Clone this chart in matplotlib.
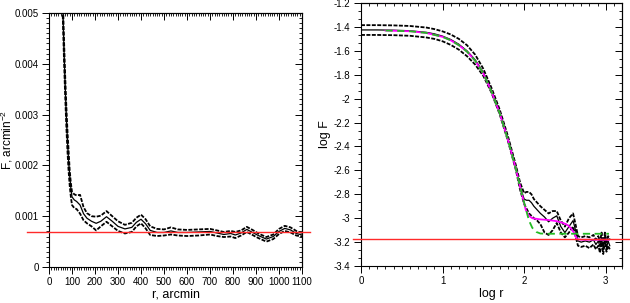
import matplotlib
matplotlib.use('Agg')
import matplotlib.pyplot as plt
from matplotlib.ticker import MultipleLocator, FixedLocator, FixedFormatter

plt.rcParams['font.family'] = ['Liberation Sans', 'DejaVu Sans']
plt.rcParams['axes.unicode_minus'] = False

# ---------------- left panel: F(r), linear ----------------
r_L = [55, 60, 65, 70, 75, 80, 85, 90, 95, 100,
       110, 120, 135, 150, 165, 185, 205, 225, 250, 275,
       300, 330, 360, 380, 400, 420, 440, 470, 500, 530,
       560, 600, 650, 700, 730, 760, 790, 810, 835, 860,
       885, 910, 945, 975, 1000, 1025, 1050, 1075, 1100]
F_mid = [0.0058, 0.0051, 0.0043, 0.0036, 0.0030, 0.0025, 0.0021, 0.0018, 0.00155, 0.00138,
         0.00132, 0.00129, 0.00122, 0.00105, 0.00096, 0.00090, 0.00086, 0.00090, 0.00099, 0.00090,
         0.00080, 0.00075, 0.00078, 0.00088, 0.00094, 0.00085, 0.00072, 0.00068, 0.00068, 0.00071,
         0.00068, 0.00068, 0.00069, 0.00070, 0.00067, 0.00064, 0.00066, 0.00063, 0.00067, 0.00074,
         0.00068, 0.00062, 0.00055, 0.00060, 0.00070, 0.00076, 0.00073, 0.00066, 0.00063]
F_hi = [0.0060, 0.0053, 0.0045, 0.0038, 0.0032, 0.0027, 0.0023, 0.0019, 0.00165, 0.00148,
        0.00143, 0.00141, 0.00142, 0.00118, 0.00106, 0.00100, 0.00099, 0.00101, 0.00110, 0.00100,
        0.00090, 0.00083, 0.00087, 0.00097, 0.00103, 0.00094, 0.00080, 0.00075, 0.00074, 0.00078,
        0.00074, 0.00073, 0.00074, 0.00075, 0.00072, 0.00069, 0.00071, 0.00069, 0.00072, 0.00079,
        0.00073, 0.00066, 0.00059, 0.00064, 0.00075, 0.00081, 0.00078, 0.00071, 0.00067]
F_lo = [0.0056, 0.0049, 0.0041, 0.0034, 0.0028, 0.0023, 0.0019, 0.0016, 0.00138, 0.00122,
        0.00116, 0.00114, 0.00105, 0.00092, 0.00086, 0.00080, 0.00072, 0.00080, 0.00089, 0.00080,
        0.00071, 0.00066, 0.00069, 0.00080, 0.00086, 0.00076, 0.00063, 0.00061, 0.00062, 0.00064,
        0.00062, 0.00061, 0.00062, 0.00064, 0.00061, 0.00059, 0.00060, 0.00057, 0.00062, 0.00069,
        0.00063, 0.00057, 0.00050, 0.00055, 0.00065, 0.00071, 0.00068, 0.00062, 0.00060]
F_bg = 0.00068

xticks_L = [0, 100, 200, 300, 400, 500, 600, 700, 800, 900, 1000, 1100]
xlabels_L = ['0', '100', '200', '300', '400', '500', '600', '700', '800', '900', '1000', '1100']
yticks_L = [0, 0.001, 0.002, 0.003, 0.004, 0.005]
ylabels_L = ['0', '0.001', '0.002', '0.003', '0.004', '0.005']

# ---------------- right panel: log F vs log r ----------------
logr_R = [0, 0.2, 0.4, 0.6, 0.8, 0.9, 1.0, 1.1, 1.2, 1.3, 1.4, 1.5, 1.6, 1.7, 1.8, 1.9, 1.95, 2.0,
          2.03, 2.06, 2.09, 2.12, 2.16, 2.2, 2.25, 2.3, 2.35, 2.4, 2.45, 2.5, 2.55, 2.6, 2.63,
          2.66, 2.7, 2.75, 2.8, 2.85, 2.88, 2.91, 2.93, 2.95, 2.97, 2.99, 3.01, 3.03, 3.05]
logF_mid = [-1.425, -1.425, -1.427, -1.432, -1.445, -1.458, -1.477, -1.505, -1.545, -1.600,
            -1.675, -1.78, -1.93, -2.11, -2.33, -2.58, -2.73, -2.84,
            -2.85, -2.85, -2.87, -2.90, -2.93, -2.96, -2.99, -3.03, -3.0, -2.98, -3.07, -3.12,
            -3.07, -3.02, -3.1, -3.19, -3.2, -3.19, -3.2, -3.18, -3.22, -3.19, -3.24, -3.17,
            -3.26, -3.15, -3.25, -3.19, -3.23]
logF_hi = [-1.385, -1.385, -1.387, -1.392, -1.405, -1.418, -1.437, -1.463, -1.50, -1.553,
           -1.632, -1.75, -1.91, -2.09, -2.31, -2.56, -2.70, -2.79,
           -2.78, -2.78, -2.80, -2.84, -2.87, -2.90, -2.93, -2.96, -2.94, -2.94, -3.02, -3.07,
           -3.0, -2.96, -3.05, -3.15, -3.16, -3.15, -3.16, -3.14, -3.18, -3.15, -3.2, -3.12,
           -3.22, -3.12, -3.2, -3.15, -3.18]
logF_lo = [-1.467, -1.467, -1.469, -1.474, -1.488, -1.50, -1.52, -1.55, -1.59, -1.645,
           -1.715, -1.81, -1.95, -2.13, -2.35, -2.60, -2.76, -2.88,
           -2.92, -2.96, -2.98, -3.0, -3.02, -3.05, -3.12, -3.14, -3.10, -3.04, -3.12, -3.16,
           -3.12, -3.07, -3.15, -3.23, -3.24, -3.23, -3.25, -3.22, -3.26, -3.23, -3.29, -3.2,
           -3.3, -3.19, -3.28, -3.23, -3.26]

# model 1 (magenta)
m_logr = [0.3, 0.6, 0.8, 1.0, 1.1, 1.2, 1.3, 1.4, 1.5, 1.6, 1.7, 1.8, 1.9, 1.97, 2.02,
          2.06, 2.1, 2.2, 2.3, 2.4, 2.48, 2.54, 2.58, 2.61, 2.63, 2.65, 2.7, 2.8, 2.9, 3.04]
m_logF = [-1.43, -1.436, -1.45, -1.483, -1.512, -1.553, -1.607, -1.683, -1.79, -1.94, -2.12,
          -2.34, -2.59, -2.79, -2.93, -2.98, -3.0, -3.01, -3.015, -3.025, -3.04, -3.06, -3.09,
          -3.12, -3.15, -3.175, -3.18, -3.18, -3.18, -3.18]
# model 2 (green dashed)
g_logr = [0.3, 0.6, 0.8, 1.0, 1.1, 1.2, 1.3, 1.4, 1.5, 1.6, 1.7, 1.8, 1.9, 1.97, 2.02,
          2.06, 2.1, 2.15, 2.2, 2.3, 3.04]
g_logF = [-1.43, -1.436, -1.45, -1.483, -1.512, -1.553, -1.607, -1.683, -1.79, -1.94, -2.12,
          -2.34, -2.59, -2.79, -2.92, -3.02, -3.08, -3.115, -3.128, -3.13, -3.13]
logF_bg = -3.17

xticks_R = [0, 1, 2, 3]
xlabels_R = ['0', '1', '2', '3']
yticks_R = [-3.4, -3.2, -3.0, -2.8, -2.6, -2.4, -2.2, -2.0, -1.8, -1.6, -1.4, -1.2]
ylabels_R = ['-3.4', '-3.2', '-3', '-2.8', '-2.6', '-2.4', '-2.2', '-2', '-1.8', '-1.6', '-1.4', '-1.2']


def style_axes(ax, xt, xl, xminor, yt, yl, yminor):
    ax.xaxis.set_major_locator(FixedLocator(xt))
    ax.xaxis.set_major_formatter(FixedFormatter(xl))
    ax.yaxis.set_major_locator(FixedLocator(yt))
    ax.yaxis.set_major_formatter(FixedFormatter(yl))
    ax.xaxis.set_minor_locator(MultipleLocator(xminor))
    ax.yaxis.set_minor_locator(MultipleLocator(yminor))
    ax.tick_params(which='major', direction='out', length=5, width=0.7, labelsize=7, pad=2.5)
    ax.tick_params(which='minor', direction='out', length=2.5, width=0.6)
    for s in ax.spines.values():
        s.set_linewidth(0.8)
    # mirrored ticks, pointing in
    top = ax.secondary_xaxis('top')
    top.xaxis.set_major_locator(FixedLocator(xt))
    top.xaxis.set_minor_locator(MultipleLocator(xminor))
    top.tick_params(which='major', direction='in', length=5, width=0.7, labeltop=False)
    top.tick_params(which='minor', direction='in', length=2.5, width=0.6)
    right = ax.secondary_yaxis('right')
    right.yaxis.set_major_locator(FixedLocator(yt))
    right.yaxis.set_minor_locator(MultipleLocator(yminor))
    right.tick_params(which='major', direction='in', length=5, width=0.7, labelright=False)
    right.tick_params(which='minor', direction='in', length=2.5, width=0.6)


fig = plt.figure(figsize=(6.3, 3.03), dpi=100)
ax1 = fig.add_axes([0.0778, 0.1188, 0.4016, 0.8383])
ax2 = fig.add_axes([0.573, 0.122, 0.4143, 0.868])

band = dict(color='black', lw=1.3, dashes=(2.2, 0.8))

# left
ax1.plot(r_L, F_hi, **band)
ax1.plot(r_L, F_lo, **band)
ax1.plot(r_L, F_mid, color='black', lw=0.9)
ax1.axhline(F_bg, xmin=-0.087, xmax=1.032, color='#ff2a2a', lw=1.0, clip_on=False, zorder=5)
ax1.set_xlim(0, 1100)
ax1.set_ylim(0, 0.005)
style_axes(ax1, xticks_L, xlabels_L, 10, yticks_L, ylabels_L, 0.0001)
ax1.set_xlabel('r, arcmin', fontsize=9, labelpad=1)
ax1.set_ylabel(r'F, arcmin$^{\mathregular{-2}}$', fontsize=8.5)
ax1.yaxis.set_label_coords(-0.134, 0.5)

# right
ax2.plot(logr_R, logF_hi, **band)
ax2.plot(logr_R, logF_lo, **band)
ax2.plot(logr_R, logF_mid, color='black', lw=0.9)
ax2.plot(m_logr, m_logF, color='#ff00ff', lw=1.3)
ax2.plot(g_logr, g_logF, color='#22bb22', lw=1.3, dashes=(4, 2.5))
ax2.axhline(logF_bg, xmin=-0.031, xmax=1.034, color='#ff2a2a', lw=1.0, clip_on=False, zorder=5)
ax2.set_xlim(0, 3.2)
ax2.set_ylim(-3.4, -1.2)
style_axes(ax2, xticks_R, xlabels_R, 0.1, yticks_R, ylabels_R, 0.2 / 3)
ax2.set_xlabel('log r', fontsize=9, labelpad=1)
ax2.set_ylabel('log F', fontsize=9)
ax2.yaxis.set_label_coords(-0.115, 0.5)

fig.savefig('out.png', dpi=100)
